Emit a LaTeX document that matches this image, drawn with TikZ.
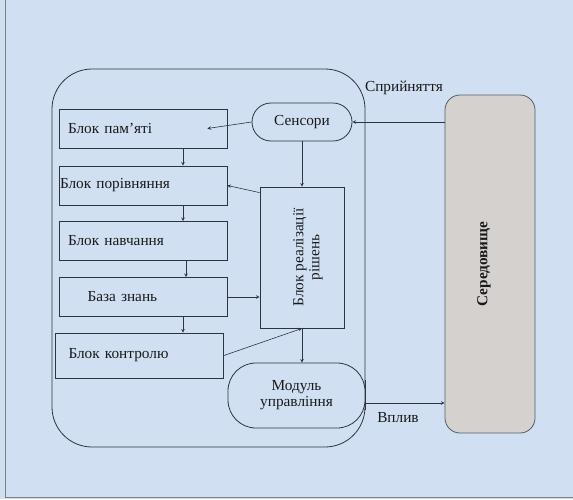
\documentclass[tikz,border=0pt]{standalone}
\usepackage{fontspec}
\setmainfont{Liberation Serif}
\usepackage{tikz}

\definecolor{tlo}{RGB}{208,224,242}
\definecolor{liniya}{RGB}{45,52,62}
\definecolor{sirij}{RGB}{213,209,207}

\tikzset{
	blok/.style={draw=liniya,thick,rectangle,minimum width=168pt,minimum height=39pt,text width=150pt,align=left,inner sep=0pt},
	kapsula/.style={draw=liniya,thick,rectangle,rounded corners=19pt,align=center},
	tekst/.style={font=\fontsize{15.3}{17}\selectfont,text=black!90}
}

\begin{document}
\begin{tikzpicture}[x=1pt,y=-1pt,every node/.style={tekst},>=stealth]
	%BACKGROUND
	\fill[tlo] (0,0) rectangle (573,499);
	\useasboundingbox (0,0) rectangle (573,499);
	\draw[gray] (5,0)--(5,497)--(573,497);
	
	%CONTAINER
	\draw[liniya,thick,rounded corners=40pt] (52,69) rectangle (365,447);
	
	%LEFT COLUMN
	\node[blok] (pam) at (143,128.5) {Блок пам’яті};
	\node[blok] (por) at (143,185.5) {\hspace*{-8pt}Блок порівняння};
	\node[blok] (nav) at (143,241) {Блок навчання};
	\node[blok] (baza) at (143.5,297) {\hspace*{19pt}База знань};
	\node[blok,minimum height=45pt] (kontr) at (139.5,355.5) {\hspace*{4pt}Блок контролю};
	
	%MIDDLE
	\node[kapsula,minimum width=100pt,minimum height=38pt] (sens) at (302,122) {Сенсори};
	\node[draw=liniya,thick,minimum width=84pt,minimum height=141pt,inner sep=0pt] (real) at (302,257.5)
		{\hspace*{12pt}\rotatebox{90}{\begin{tabular}{@{}c@{}}Блок реалізації\\[-1pt] рішень\end{tabular}}};
	\node[kapsula,rounded corners=28pt,minimum width=137pt,minimum height=65pt,fill=tlo] (modul) at (296.5,395.5)
		{Модуль\\[-1pt] управління};
	\draw[liniya,thick] (365,380)--(365,410); %container edge over the module
	
	%ENVIRONMENT
	\node[draw=liniya!80,thick,fill=sirij,rounded corners=15pt,minimum width=90pt,minimum height=338pt] (ser) at (490,264)
		{\rotatebox{90}{\bfseries Середовище}\hspace*{12pt}};
	
	%ARROWS
	\draw[liniya,semithick,->] (sens.west)--([xshift=-20pt]pam.east);
	\draw[liniya,semithick,->] ([xshift=40pt]pam.south)--([xshift=40pt]por.north);
	\draw[liniya,semithick,->] ([xshift=40pt]por.south)--([xshift=40pt]nav.north);
	\draw[liniya,semithick,->] ([xshift=43pt]nav.south)--([xshift=42.5pt]baza.north);
	\draw[liniya,semithick,->] ([xshift=39.5pt]baza.south)--([xshift=43.5pt]kontr.north);
	%
	\draw[liniya,semithick,->] (sens.south)--(sens.south |- real.north);
	\draw[liniya,semithick,->] ([yshift=-6pt]real.north west)--(por.east);
	\draw[liniya,semithick,->] (baza.east)--(baza.east -| real.west);
	\draw[liniya,semithick,->] (kontr.east)--(real.south);
	\draw[liniya,semithick,->] (real.south)--(real.south |- modul.north);
	%
	\draw[liniya,semithick,->] (ser.west |- sens.east)--(sens.east);
	\draw[liniya,semithick,->] ([yshift=-7.5pt]modul.east)--([yshift=-7.5pt]modul.east -| ser.west);
	
	%LABELS
	\node (spryin) at (404,88) {Сприйняття};
	\node (vplyv) at (398,418) {Вплив};
\end{tikzpicture}
\end{document}
